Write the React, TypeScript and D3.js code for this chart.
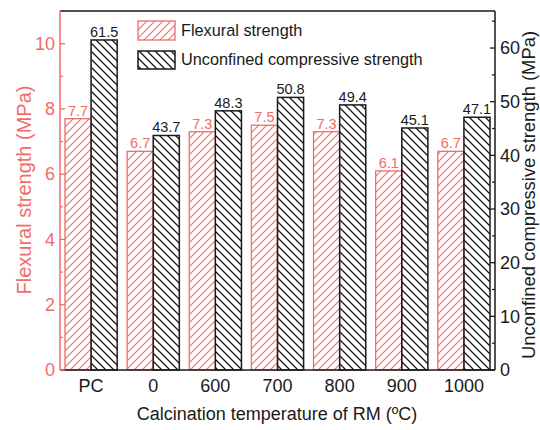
import React from "react";
import * as d3 from "d3";

const categories = ["PC", "0", "600", "700", "800", "900", "1000"];
const flexural = [7.7, 6.7, 7.3, 7.5, 7.3, 6.1, 6.7];
const ucs = [61.5, 43.7, 48.3, 50.8, 49.4, 45.1, 47.1];
const leftTicks = [0, 2, 4, 6, 8, 10];
const leftMinor = [1, 3, 5, 7, 9];
const rightTicks = [0, 10, 20, 30, 40, 50, 60];
const rightMinor = [5, 15, 25, 35, 45, 55, 65];

const RED = "#f26b6b";
const DARK = "#1a1a1a";
const FONT = "Liberation Sans, Arial, sans-serif";

export default function App() {
  const W = 540, H = 430;
  const left = 60, right = 495, top = 11, bottom = 370;
  const x = d3.scaleBand<string>().domain(categories).range([left, right]).paddingInner(0.16).paddingOuter(0.08);
  const sub = d3.scaleBand<string>().domain(["f", "u"]).range([0, x.bandwidth()]);
  const yL = d3.scaleLinear().domain([0, 11]).range([bottom, top]);
  const yR = d3.scaleLinear().domain([0, 66.9]).range([bottom, top]);

  return (
    <svg width={W} height={H} style={{ position: "absolute", left: 0, top: 0 }} fontFamily={FONT}>
      <defs>
        <pattern id="hR" patternUnits="userSpaceOnUse" width="8" height="8">
          <path d="M-2,2 L2,-2 M0,8 L8,0 M6,10 L10,6" stroke={RED} strokeWidth="1.1" />
        </pattern>
        <pattern id="hB" patternUnits="userSpaceOnUse" width="8" height="8">
          <path d="M-2,6 L2,10 M0,0 L8,8 M6,-2 L10,2" stroke={DARK} strokeWidth="1.3" />
        </pattern>
      </defs>
      <rect width={W} height={H} fill="white" />
      {categories.map((c, i) => {
        const x0 = x(c)!;
        const yf = yL(flexural[i]);
        const yu = yR(ucs[i]);
        return (
          <g key={c}>
            <rect x={x0 + sub("f")!} y={yf} width={sub.bandwidth()} height={bottom - yf} fill="url(#hR)" stroke={RED} strokeWidth={1.3} />
            <rect x={x0 + sub("u")!} y={yu} width={sub.bandwidth()} height={bottom - yu} fill="url(#hB)" stroke={DARK} strokeWidth={1.5} />
            <text x={x0 + sub("f")! + sub.bandwidth() / 2} y={yf - 3} textAnchor="middle" fontSize={14.5} fill={RED}>{flexural[i].toFixed(1)}</text>
            <text x={x0 + sub("u")! + sub.bandwidth() / 2} y={yu - 3} textAnchor="middle" fontSize={14.5} fill={DARK}>{ucs[i].toFixed(1)}</text>
            <text x={x0 + x.bandwidth() / 2} y={392} textAnchor="middle" fontSize={18} fill={DARK}>{c}</text>
          </g>
        );
      })}
      {/* frame */}
      <line x1={left} x2={right} y1={top} y2={top} stroke={DARK} strokeWidth={1.5} />
      <line x1={left} x2={right} y1={bottom} y2={bottom} stroke={DARK} strokeWidth={1.5} />
      <line x1={right} x2={right} y1={top} y2={bottom} stroke={DARK} strokeWidth={1.5} />
      <line x1={left} x2={left} y1={top} y2={bottom} stroke={RED} strokeWidth={1.5} />
      {/* left axis */}
      {leftTicks.map((t) => (
        <g key={"l" + t}>
          <line x1={left} x2={left + 5} y1={yL(t)} y2={yL(t)} stroke={RED} strokeWidth={1.3} />
          <text x={left - 5} y={yL(t)} dy="0.35em" textAnchor="end" fontSize={18} fill={RED}>{t}</text>
        </g>
      ))}
      {leftMinor.map((t) => (
        <line key={"lm" + t} x1={left} x2={left + 3} y1={yL(t)} y2={yL(t)} stroke={RED} strokeWidth={1.2} />
      ))}
      {/* right axis */}
      {rightTicks.map((t) => (
        <g key={"r" + t}>
          <line x1={right} x2={right - 5} y1={yR(t)} y2={yR(t)} stroke={DARK} strokeWidth={1.3} />
          <text x={right + 5} y={yR(t)} dy="0.35em" textAnchor="start" fontSize={18} fill={DARK}>{t}</text>
        </g>
      ))}
      {rightMinor.map((t) => (
        <line key={"rm" + t} x1={right} x2={right - 3} y1={yR(t)} y2={yR(t)} stroke={DARK} strokeWidth={1.2} />
      ))}
      {/* titles */}
      <text transform={`translate(${24},${190}) rotate(-90)`} dy="0.35em" textAnchor="middle" fontSize={20} fill={RED}>Flexural strength (MPa)</text>
      <text transform={`translate(${528.5},${195}) rotate(-90)`} dy="0.35em" textAnchor="middle" fontSize={18.4} fill={DARK}>Unconfined compressive strength (MPa)</text>
      <text x={277} y={420} textAnchor="middle" fontSize={18} fill={DARK}>Calcination temperature of RM (ºC)</text>
      {/* legend */}
      <rect x={138} y={21} width={37} height={19} fill="url(#hR)" stroke={RED} strokeWidth={1.3} />
      <text x={181} y={36} fontSize={16.3} fill={DARK}>Flexural strength</text>
      <rect x={138} y={51} width={37} height={18} fill="url(#hB)" stroke={DARK} strokeWidth={1.5} />
      <text x={181} y={64.5} fontSize={16.3} fill={DARK}>Unconfined compressive strength</text>
    </svg>
  );
}
